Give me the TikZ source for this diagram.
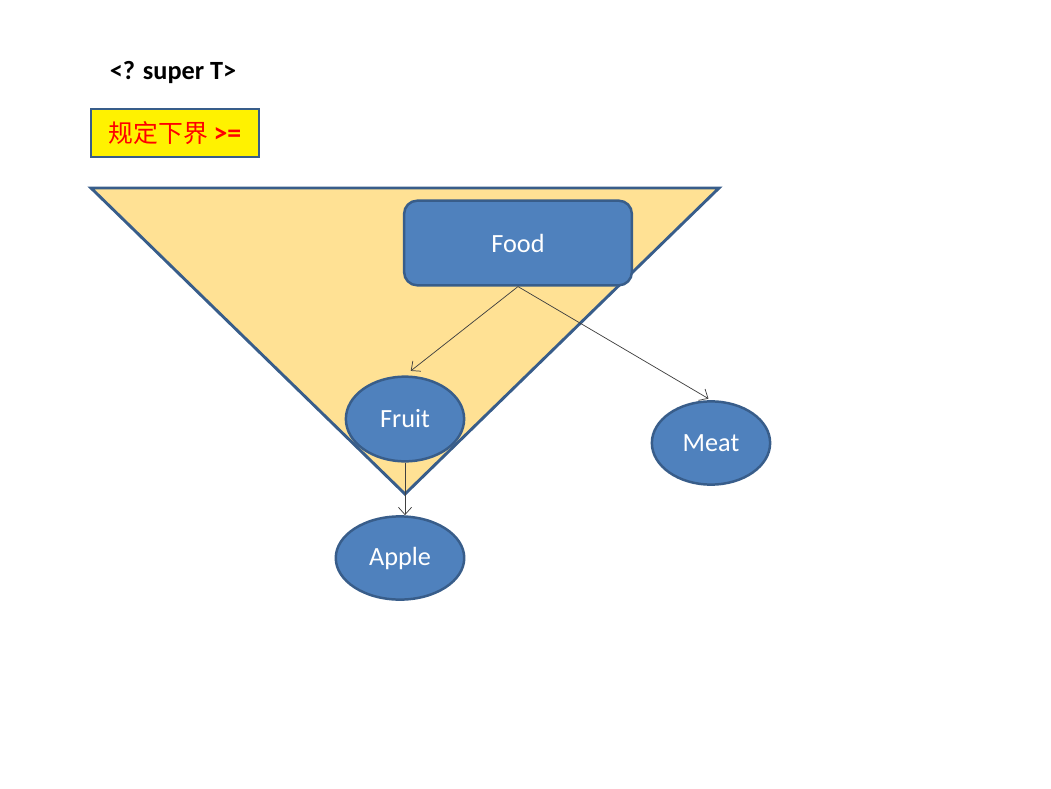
\documentclass[tikz,border=0pt]{standalone}
\usepackage{fontspec}
\setmainfont{Carlito}
\newfontfamily\cjk{Noto Sans CJK SC}
\usetikzlibrary{shapes.geometric,arrows.meta}
\definecolor{boxblue}{HTML}{4F81BD}
\definecolor{edgeblue}{HTML}{385D8A}
\definecolor{wedge}{HTML}{FFE194}
\tikzset{
	blob/.style={draw=edgeblue, fill=boxblue, line width=1.7pt,
		ellipse, text=white, font=\fontsize{18}{20}\selectfont},
	link/.style={draw=black!75, line width=0.5pt,
		-{Straight Barb[length=5pt,width=9pt]}}
}
\begin{document}
\begin{tikzpicture}[x=0.685pt,y=-0.685pt]
		
		\useasboundingbox (0,0) rectangle (1051,789);
		
		% Wildcard title
		\node [font=\fontsize{18}{20}\selectfont\bfseries] (title) at (173,72) {<? super T>};
		
		% Lower bound label
		\node [draw=edgeblue,
		fill=yellow,
		line width=1.7pt,
		minimum width=115pt,
		minimum height=33pt,
		text=red,
		font=\fontsize{17}{20}\selectfont] (bound) at (175,133) {{\cjk 规定下界} \textbf{\fontsize{19}{20}\selectfont >=}};
		
		% Triangle of allowed types
		\draw [draw=edgeblue, fill=wedge, line width=2pt, line join=miter]
		(91,188) -- (719,188) -- (405,494) -- cycle;
		
		% Food
		\node [draw=edgeblue,
		fill=boxblue,
		line width=1.7pt,
		rounded corners=9pt,
		minimum width=156pt,
		minimum height=58pt,
		text=white,
		font=\fontsize{18}{20}\selectfont] (food) at (518,243) {Food};
		
		% Fruit
		\node [blob,
		minimum width=81pt,
		minimum height=58pt] (fruit) at (405,419) {Fruit};
		
		% Meat
		\node [blob,
		minimum width=81pt,
		minimum height=57pt] (meat) at (711,443) {Meat};
		
		% Apple
		\node [blob,
		minimum width=88pt,
		minimum height=57pt] (apple) at (400,558) {Apple};
		
		\draw [link, shorten >=5pt] (food.south) -- (fruit.north);
		\draw [link, shorten >=2pt] (food.south) -- (meat.north);
		\draw [link] (fruit.south) -- (fruit.south |- apple.north);
		
	\end{tikzpicture}
\end{document}
